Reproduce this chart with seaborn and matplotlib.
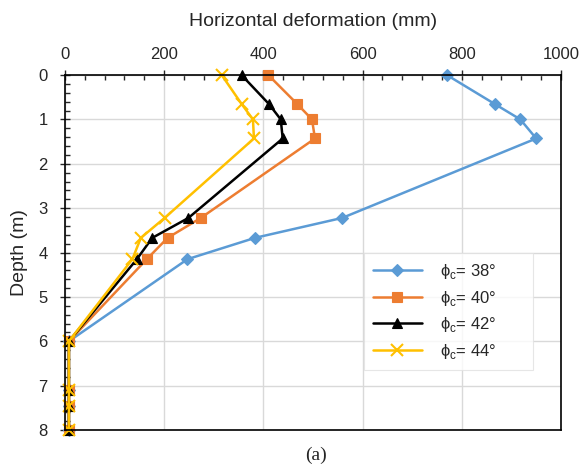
import matplotlib
matplotlib.use("Agg")
import matplotlib.pyplot as plt
from matplotlib.ticker import MultipleLocator
import seaborn as sns

# depth of the measurement points (m)
depth = [0, 0.65, 1.0, 1.43, 3.22, 3.67, 4.15, 6.0, 7.1, 7.45, 8.0]

# horizontal deformation (mm) for each friction angle
defo_38 = [770, 866, 918, 950, 559, 383, 247, 8, 8, 8, 8]
defo_40 = [410, 468, 498, 504, 274, 207, 165, 8, 8, 8, 8]
defo_42 = [356, 411, 435, 439, 249, 176, 145, 8, 8, 8, 8]
defo_44 = [316, 356, 379, 381, 201, 153, 136, 8, 8, 8, 8]

labels = ["ϕ$_\\mathregular{c}$= 38°", "ϕ$_\\mathregular{c}$= 40°",
          "ϕ$_\\mathregular{c}$= 42°", "ϕ$_\\mathregular{c}$= 44°"]
colors = ["#5B9BD5", "#ED7D31", "#000000", "#FFC000"]
markers = ["D", "s", "^", "x"]
sizes = [6.5, 7, 7.5, 8]

sns.set_style("white")
plt.rcParams['font.family'] = ['Liberation Sans', 'DejaVu Sans']

fig = plt.figure(figsize=(5.85, 4.72), dpi=100)
ax = fig.add_axes([0.111, 0.089, 0.848, 0.752])

for defo, lab, col, mk, ms in zip([defo_38, defo_40, defo_42, defo_44], labels, colors, markers, sizes):
    sns.lineplot(x=defo, y=depth, sort=False, estimator=None, ax=ax, label=lab,
                 color=col, marker=mk, markersize=ms, linewidth=1.8, clip_on=False,
                 markeredgecolor=col, markeredgewidth=1.5 if mk == "x" else 0.8)

ax.set_xlim(0, 1000)
ax.set_ylim(8, 0)
ax.xaxis.set_major_locator(MultipleLocator(200))
ax.xaxis.set_minor_locator(MultipleLocator(40))
ax.yaxis.set_major_locator(MultipleLocator(1))
ax.yaxis.set_minor_locator(MultipleLocator(0.2))
ax.xaxis.tick_top()
ax.xaxis.set_label_position("top")
ax.tick_params(axis="x", which="major", direction="inout", length=7, width=1,
               top=True, bottom=False, labelsize=12, pad=6)
ax.tick_params(axis="x", which="minor", direction="in", length=3.5, width=1,
               top=True, bottom=False)
ax.tick_params(axis="y", which="major", direction="inout", length=7, width=1,
               left=True, right=False, labelsize=12, pad=9)
ax.tick_params(axis="y", which="minor", direction="in", length=3.5, width=1,
               left=True, right=False)
ax.grid(True, which="major", color="#d9d9d9", linewidth=1)
ax.set_axisbelow(True)
for sp in ax.spines.values():
    sp.set_color("black")
    sp.set_linewidth(1.2)

ax.set_xlabel("Horizontal deformation (mm)", fontsize=14, labelpad=15)
ax.set_ylabel("Depth (m)", fontsize=14, labelpad=7)

leg = ax.legend(loc="upper left", bbox_to_anchor=(364 / 585, 1 - 372 / 472, 169 / 585, 119 / 472),
                bbox_transform=fig.transFigure, mode="expand", borderaxespad=0, fontsize=12,
                frameon=True, fancybox=False, edgecolor="#e0e0e0",
                handlelength=2.9, labelspacing=0.45, borderpad=0.55, handletextpad=1.1)
leg.get_frame().set_linewidth(0.8)

fig.text(0.54, 0.035, "(a)", ha="center", va="center", fontsize=14,
         family="Liberation Serif")

fig.savefig("out.png", dpi=100, facecolor="white")
